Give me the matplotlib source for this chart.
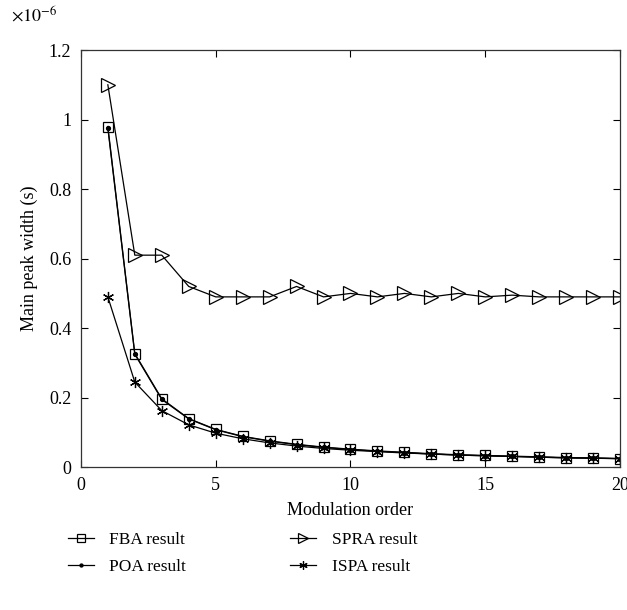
import matplotlib
matplotlib.use("Agg")
import matplotlib.pyplot as plt

plt.rcParams["font.family"] = ["Liberation Serif", "DejaVu Serif"]
plt.rcParams["mathtext.fontset"] = "stix"

# Modulation order
orders = list(range(1, 21))

# Main peak width values (x 1e-6 s)
fba = [0.98, 0.327, 0.197, 0.140, 0.109, 0.089, 0.076, 0.066, 0.058, 0.052,
       0.047, 0.043, 0.039, 0.036, 0.034, 0.032, 0.030, 0.028, 0.027, 0.025]
poa = [0.975, 0.325, 0.195, 0.139, 0.108, 0.088, 0.075, 0.065, 0.057, 0.051,
       0.046, 0.042, 0.038, 0.035, 0.033, 0.031, 0.029, 0.027, 0.026, 0.025]
spra = [1.10, 0.61, 0.61, 0.52, 0.49, 0.49, 0.49, 0.52, 0.49, 0.50,
        0.49, 0.50, 0.49, 0.50, 0.49, 0.495, 0.49, 0.49, 0.49, 0.49]
ispa = [0.49, 0.245, 0.163, 0.122, 0.098, 0.082, 0.070, 0.061, 0.054, 0.049,
        0.045, 0.041, 0.038, 0.035, 0.033, 0.031, 0.029, 0.027, 0.026, 0.0245]

scale = 1e-6

fig = plt.figure(figsize=(6.27, 6.10), dpi=100)
ax = fig.add_axes([0.129, 0.234, 0.860, 0.684])

l1, = ax.plot(orders, [v * scale for v in fba], color="black", lw=0.9,
              marker="s", ms=7, mfc="none", mew=0.9)
l2, = ax.plot(orders, [v * scale for v in poa], color="black", lw=0.9,
              marker="o", ms=2.8, mfc="black")
l3, = ax.plot(orders, [v * scale for v in spra], color="black", lw=0.9,
              marker=">", ms=10, mfc="none", mew=0.9)
l4, = ax.plot(orders, [v * scale for v in ispa], color="black", lw=0.9,
              marker=(6, 2, 0), ms=8, mew=0.9)

ax.set_xlim(0, 20)
ax.set_ylim(0, 1.2e-6)
ax.set_xticks([0, 5, 10, 15, 20])
ax.set_yticks([0, 0.2e-6, 0.4e-6, 0.6e-6, 0.8e-6, 1.0e-6, 1.2e-6])
ax.set_yticklabels(["0", "0.2", "0.4", "0.6", "0.8", "1", "1.2"])
ax.tick_params(direction="in", top=True, right=True, labelsize=13,
               length=5, width=0.8, pad=7)
for sp in ax.spines.values():
    sp.set_linewidth(0.9)
    sp.set_color("#333333")

ax.text(-0.13, 1.06, r"$\times10^{-6}$", transform=ax.transAxes,
        fontsize=13, ha="left", va="bottom")

ax.set_xlabel("Modulation order", fontsize=13, labelpad=6)
ax.set_ylabel("Main peak width (s)", fontsize=13, labelpad=8)

fig.legend([l1, l2, l3, l4],
           ["FBA result", "POA result", "SPRA result", "ISPA result"],
           loc="upper left", bbox_to_anchor=(0.083, 0.153), ncol=2,
           frameon=False, fontsize=12.5, columnspacing=6.0,
           handlelength=1.5, handletextpad=0.9, labelspacing=0.62,
           markerscale=0.75)

fig.savefig("out.png", dpi=100)
